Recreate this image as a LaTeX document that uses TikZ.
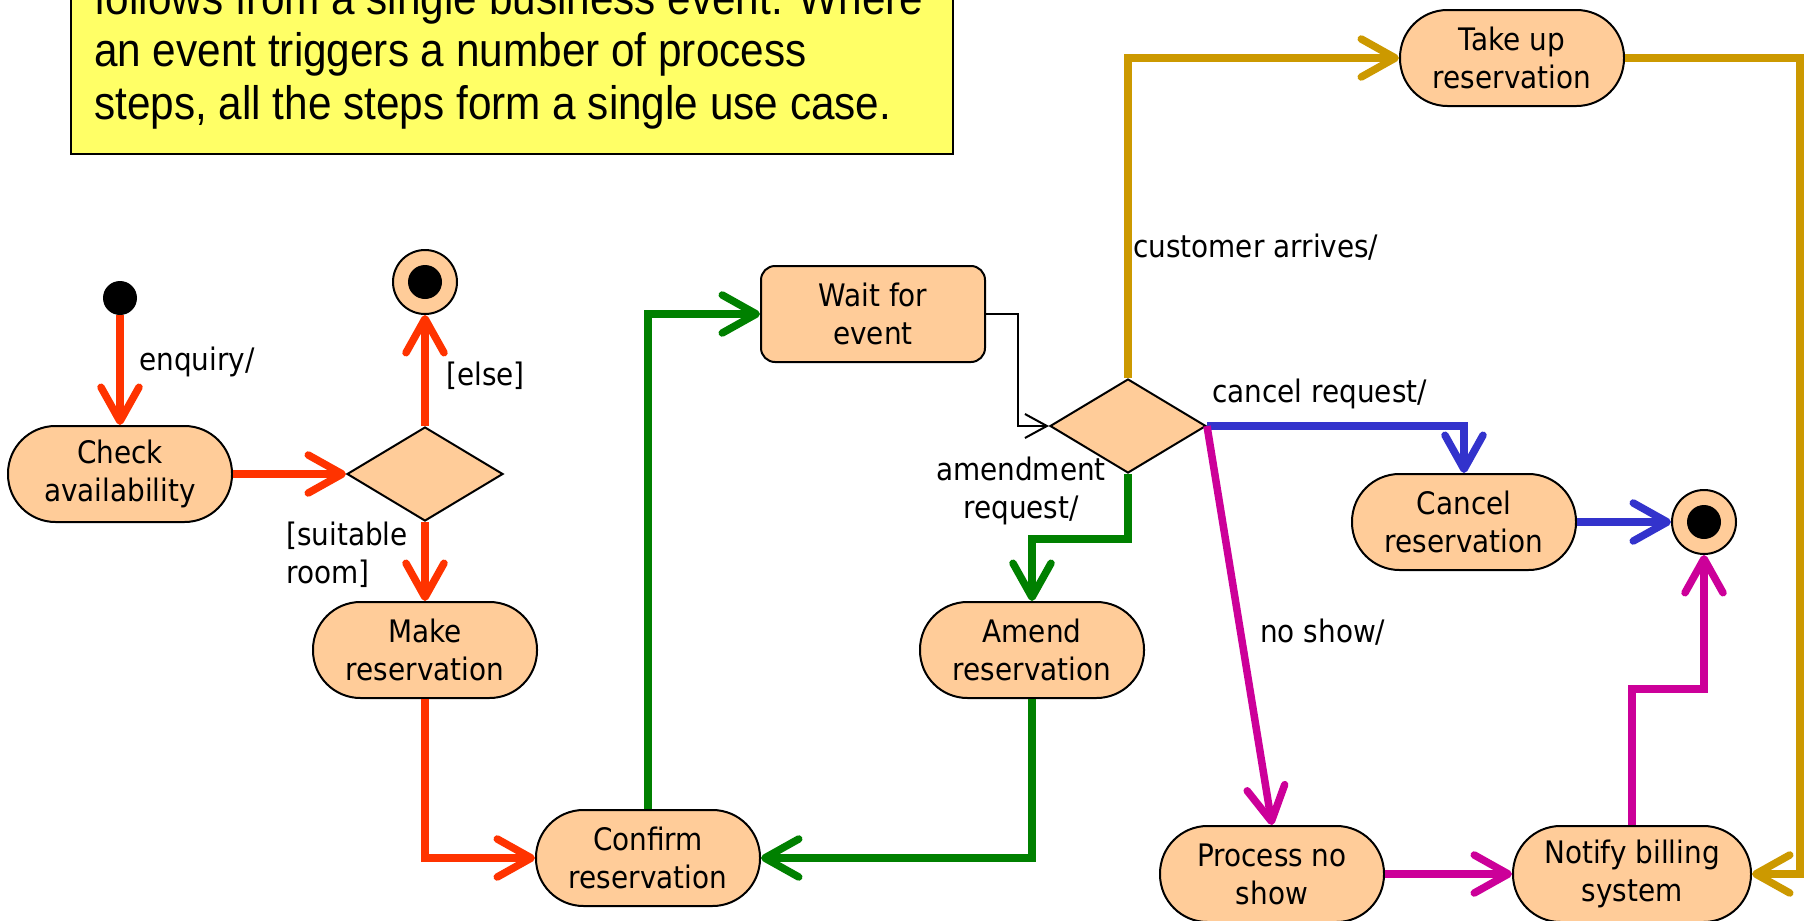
\documentclass[tikz,border=0pt]{standalone}
\usepackage{fontspec}
\usetikzlibrary{shapes.geometric,arrows.meta}
\newfontfamily\diagfont[FakeStretch=0.9]{DejaVu Sans}
\newfontfamily\memofont[FakeStretch=0.9]{Liberation Sans}
\newcommand\labeltext{\diagfont\fontsize{31}{38}\selectfont}
\newcommand\memotext{\memofont\fontsize{47}{52.5}\selectfont}
\definecolor{peach}{RGB}{255,204,153}
\definecolor{flowred}{RGB}{255,51,0}
\definecolor{flowgreen}{RGB}{0,128,0}
\definecolor{flowgold}{RGB}{204,153,0}
\definecolor{flowblue}{RGB}{51,51,204}
\definecolor{flowmagenta}{RGB}{204,0,153}
\definecolor{noteyellow}{RGB}{255,255,102}

\begin{document}
\begin{tikzpicture}[x=1pt,y=-1pt,
  every node/.style={inner sep=0pt},
  activity/.style={draw=black, line width=2pt, fill=peach, rounded corners=47.5pt,
    minimum width=224pt, minimum height=96pt, align=center, font=\labeltext},
  waitbox/.style={activity, rounded corners=14pt},
  decision/.style={draw=black, line width=2pt, fill=peach, shape=diamond,
    minimum width=156pt, minimum height=94pt},
  startdot/.style={circle, fill=black, minimum size=34pt},
  enddot/.style={circle, draw=black, line width=2pt, fill=peach, minimum size=64pt},
  flow/.style={line width=7.5pt, -{Straight Barb[length=34pt,width=38pt,round]}},
  thinflow/.style={line width=2pt, -{Straight Barb[length=22pt,width=24pt]}},
  guard/.style={font=\labeltext, anchor=base west, align=left},
  memo/.style={draw=black, line width=2pt, fill=noteyellow},
]
\useasboundingbox (0,0) rectangle (1805,921);
\clip (0,0) rectangle (1805,921);

% note (its first lines run off the top edge)
\node[memo, minimum width=882pt, minimum height=254pt] (memo) at (512,27) {};
\node[anchor=base west, align=left, font=\memotext] (memotxt) at (94,119)
  {follows from a single business event. Where\\
   an event triggers a number of process\\
   steps, all the steps form a single use case.};

% states
\node[startdot] (init) at (120,298) {};
\node[activity] (check) at (120,474) {Check\\availability};
\node[decision] (dec1) at (425,474) {};
\node[enddot] (final1) at (425,282) {};
\fill (final1) circle (17pt);
\node[activity] (make) at (425,650) {Make\\reservation};
\node[activity] (confirm) at (648,858) {Confirm\\reservation};
\node[waitbox] (wait) at (873,314) {Wait for\\event};
\node[decision] (dec2) at (1128,426) {};
\node[activity] (amend) at (1032,650) {Amend\\reservation};
\node[activity] (take) at (1512,58) {Take up\\reservation};
\node[activity] (cancel) at (1464,522) {Cancel\\reservation};
\node[enddot] (final2) at (1704,522) {};
\fill (final2) circle (17pt);
\node[activity] (process) at (1272,874) {Process no\\show};
\node[activity, minimum width=238pt] (notify) at (1632,874) {Notify billing\\system};
\coordinate (goldturn) at (1800,58);

% transitions
\draw[flow, flowred] (init) -- (check);
\draw[flow, flowred] (check) -- (dec1);
\draw[flow, flowred] (dec1) -- (final1);
\draw[flow, flowred] (dec1) -- (make);
\draw[flow, flowred] (make) |- (confirm);
\draw[flow, flowgreen] (confirm) |- (wait);
\draw[thinflow] (wait.east) -- ++(32,0) |- (dec2.west);
\draw[flow, flowgold] (dec2) |- (take);
\draw[flow, flowgold] (take) -- (goldturn) |- (notify);
\draw[flow, flowblue] (dec2.east) -| (cancel);
\draw[flow, flowblue] (cancel) -- (final2);
\draw[flow, flowgreen] (dec2.south) -- ++(0,65) -| (amend);
\draw[flow, flowgreen] (amend) |- (confirm);
\draw[flow, flowmagenta] (dec2.east) -- (process.north);
\draw[flow, flowmagenta] (process) -- (notify);
\draw[flow, flowmagenta] (notify.north) -- ++(0,-136) -| (final2);

% labels (base = baseline of the last line)
\node[guard] (lenq) at (139,370) {enquiry/};
\node[guard] (lelse) at (446,385) {[else]};
\node[guard] (lroom) at (286,583) {[suitable\\room]};
\node[guard] (lcust) at (1133,257) {customer arrives/};
\node[guard] (lcancel) at (1212,402) {cancel request/};
\node[guard, anchor=base, align=center] (lamend) at (1021,518) {amendment\\request/};
\node[guard] (lnoshow) at (1260,642) {no show/};
\end{tikzpicture}
\end{document}
